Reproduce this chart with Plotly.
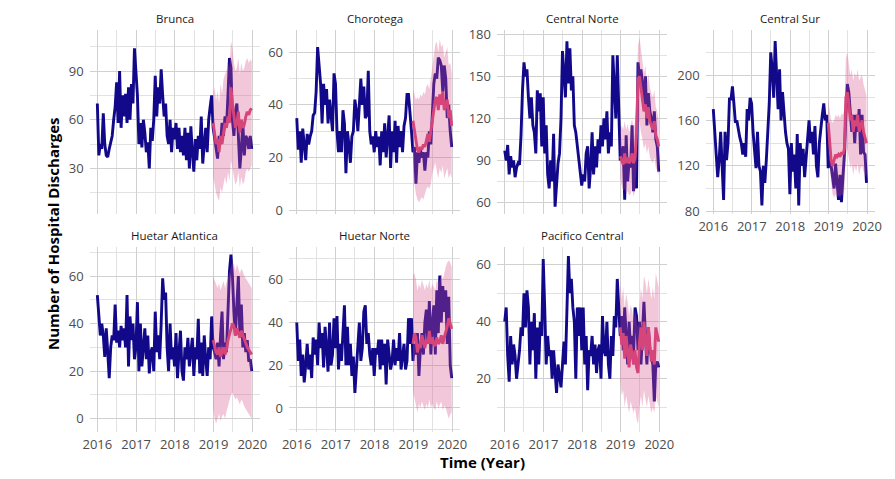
import pandas as pd
import plotly.graph_objects as go

W, H = 895, 479

# fortnightly dates 2016-2019, forecast window is the last 27 of them (2019)
weeks = pd.date_range("2016-01-01", periods=105, freq="14D")
fc_weeks = weeks[78:]

brunca_obs = [70, 38, 45, 42, 64, 45, 38, 37, 42, 46, 50, 60, 68,
              83, 58, 90, 55, 75, 62, 76, 58, 80, 60, 82, 70, 104,
              90, 75, 45, 58, 43, 60, 52, 40, 46, 30, 55, 47, 60,
              87, 62, 80, 70, 91, 75, 62, 70, 50, 45, 60, 40, 55,
              48, 58, 42, 55, 40, 50, 38, 55, 35, 52, 30, 56, 40,
              28, 48, 35, 50, 42, 62, 33, 45, 55, 40, 60, 68, 75,
              55, 48, 40, 36, 50, 45, 58, 50, 62, 55, 75, 98, 92,
              60, 50, 65, 70, 45, 30, 42, 58, 38, 50, 48, 42, 50, 42]
brunca_fc = [58, 52, 45, 48, 40, 50, 45, 52, 58, 55, 62, 58, 80, 70,
             60, 55, 58, 65, 52, 60, 55, 57, 62, 65, 63, 66, 67]
brunca_lo = [25, 20, 15, 12, 10, 18, 15, 20, 25, 20, 28, 22, 35, 30,
             25, 20, 22, 28, 18, 25, 20, 22, 28, 30, 28, 30, 32]
brunca_hi = [75, 80, 72, 78, 70, 82, 76, 85, 88, 90, 95, 92, 108, 105,
             95, 90, 92, 98, 88, 95, 90, 92, 96, 98, 95, 97, 96]

chorotega_obs = [35, 23, 30, 18, 31, 25, 19, 29, 25, 28, 30, 36, 37,
                 45, 62, 55, 48, 33, 48, 40, 46, 33, 42, 36, 30, 52,
                 48, 30, 22, 30, 22, 38, 33, 14, 30, 25, 18, 28, 30,
                 42, 38, 30, 42, 50, 40, 47, 35, 36, 53, 30, 25, 28,
                 22, 30, 24, 28, 17, 30, 22, 33, 20, 28, 36, 16, 30,
                 22, 34, 18, 32, 24, 30, 22, 32, 35, 44, 44, 38, 30,
                 22, 24, 10, 22, 18, 23, 20, 22, 15, 22, 20, 30, 25,
                 40, 48, 52, 50, 58, 57, 55, 45, 55, 50, 35, 40, 30, 24]
chorotega_fc = [34, 30, 26, 23, 22, 24, 23, 25, 24, 27, 29, 26, 30, 35,
                38, 42, 43, 38, 44, 40, 45, 38, 40, 42, 35, 38, 32]
chorotega_lo = [15, 10, 6, 4, 3, 4, 5, 4, 6, 8, 9, 8, 10, 14,
                16, 18, 15, 12, 16, 14, 17, 12, 14, 16, 12, 14, 12]
chorotega_hi = [46, 44, 42, 43, 42, 44, 43, 45, 44, 47, 48, 46, 50, 55,
                60, 63, 64, 60, 65, 62, 63, 58, 60, 62, 55, 56, 52]

cnorte_obs = [97, 90, 101, 80, 93, 85, 90, 78, 85, 88, 87, 108, 140,
              160, 150, 155, 135, 120, 135, 115, 110, 95, 140, 125, 138, 100,
              135, 95, 115, 80, 70, 90, 75, 109, 57, 75, 88, 95, 120,
              168, 150, 135, 175, 145, 170, 140, 150, 115, 110, 100, 90, 80,
              72, 80, 75, 95, 100, 70, 85, 110, 80, 100, 85, 105, 95,
              115, 100, 120, 105, 125, 95, 110, 100, 165, 140, 120, 165, 130,
              90, 95, 100, 62, 108, 75, 90, 85, 115, 68, 90, 70, 160,
              150, 155, 145, 130, 150, 115, 138, 125, 120, 110, 125, 105, 100, 82]
cnorte_fc = [93, 90, 87, 95, 88, 92, 88, 90, 95, 88, 92, 110, 148, 150,
             140, 135, 125, 130, 120, 128, 118, 115, 112, 118, 108, 105, 100]
cnorte_lo = [78, 72, 68, 70, 66, 68, 65, 66, 70, 64, 68, 85, 115, 118,
             110, 105, 98, 102, 95, 100, 92, 90, 88, 92, 85, 82, 80]
cnorte_hi = [110, 115, 112, 118, 112, 116, 110, 114, 120, 112, 118, 140, 172, 178,
             168, 162, 152, 158, 145, 152, 142, 138, 135, 140, 128, 125, 118]

csur_obs = [170, 150, 130, 110, 125, 150, 120, 90, 150, 125, 140, 180, 178,
            190, 175, 158, 160, 150, 145, 140, 130, 140, 128, 170, 160, 180,
            175, 150, 135, 118, 150, 120, 115, 85, 120, 105, 125, 150, 175,
            220, 205, 180, 230, 200, 170, 205, 160, 185, 165, 150, 140, 135,
            95, 140, 115, 130, 100, 148, 85, 140, 120, 135, 110, 125, 145,
            160, 140, 150, 130, 155, 120, 110, 140, 155, 165, 175, 160, 165,
            118, 130, 120, 108, 100, 122, 105, 90, 112, 88, 110, 130, 165,
            192, 185, 165, 150, 165, 140, 165, 150, 170, 130, 165, 132, 130, 105]
csur_fc = [158, 140, 125, 120, 125, 130, 128, 130, 128, 132, 130, 135, 180, 185,
           175, 160, 165, 150, 160, 155, 165, 150, 155, 160, 150, 145, 140]
csur_lo = [138, 120, 105, 95, 92, 95, 92, 94, 92, 95, 94, 98, 130, 135,
           128, 118, 122, 112, 120, 115, 122, 112, 118, 120, 115, 112, 110]
csur_hi = [178, 168, 160, 158, 160, 165, 163, 165, 162, 166, 165, 170, 215, 220,
           210, 200, 205, 195, 202, 198, 205, 195, 198, 200, 192, 188, 182]

hatl_obs = [52, 45, 35, 40, 35, 26, 38, 28, 17, 30, 35, 33, 48,
            32, 37, 30, 39, 33, 38, 30, 52, 22, 43, 33, 40, 25,
            30, 49, 20, 40, 22, 30, 38, 25, 35, 19, 28, 30, 20,
            45, 28, 35, 25, 40, 59, 50, 53, 30, 20, 40, 25, 30,
            22, 36, 17, 28, 37, 20, 16, 30, 25, 34, 22, 28, 34,
            18, 30, 25, 42, 19, 32, 18, 35, 25, 18, 30, 25, 43,
            30, 28, 25, 32, 22, 35, 45, 25, 32, 28, 45, 62, 69,
            60, 45, 35, 48, 60, 35, 48, 30, 36, 28, 33, 24, 25, 20]
hatl_fc = [33, 30, 28, 27, 30, 26, 28, 30, 27, 29, 33, 35, 38, 40,
           39, 35, 38, 36, 34, 37, 35, 33, 31, 30, 29, 28, 27]
hatl_lo = [5, 0, -2, 0, 2, -1, 1, 2, 0, 3, 6, 8, 10, 11,
           10, 8, 9, 8, 6, 8, 7, 5, 4, 3, 2, 1, 0]
hatl_hi = [60, 58, 56, 55, 57, 54, 56, 58, 55, 57, 60, 62, 64, 66,
           65, 62, 65, 63, 61, 63, 62, 60, 59, 58, 57, 56, 55]

hnorte_obs = [40, 22, 32, 15, 25, 12, 20, 30, 18, 25, 14, 33, 25,
              32, 20, 40, 28, 35, 19, 38, 28, 17, 40, 20, 25, 42,
              28, 43, 18, 30, 22, 35, 48, 20, 38, 20, 30, 15, 24,
              7, 20, 30, 40, 22, 28, 45, 48, 30, 35, 25, 20, 28,
              15, 28, 25, 32, 18, 32, 20, 30, 11, 32, 25, 18, 22,
              32, 20, 28, 22, 35, 18, 25, 30, 18, 22, 42, 30, 42,
              22, 30, 25, 35, 15, 28, 35, 25, 40, 46, 30, 50, 25,
              40, 48, 25, 55, 35, 62, 40, 57, 45, 55, 30, 52, 20, 14]
hnorte_fc = [30, 35, 33, 26, 30, 28, 34, 30, 28, 32, 30, 36, 30, 33,
             30, 29, 33, 30, 31, 34, 30, 33, 35, 38, 42, 40, 37]
hnorte_lo = [8, 5, 2, -2, 2, 0, 3, 1, -1, 2, 0, 4, 0, 2,
             0, -1, 3, 0, 1, 3, -1, 1, 0, -2, -5, -3, -2]
hnorte_hi = [62, 63, 60, 55, 58, 56, 60, 57, 55, 58, 56, 60, 55, 58,
             56, 55, 60, 58, 60, 63, 60, 64, 66, 68, 69, 68, 66]

pcen_obs = [40, 45, 28, 19, 35, 25, 32, 28, 20, 25, 30, 38, 35,
            50, 38, 51, 45, 25, 40, 30, 43, 20, 38, 25, 40, 35,
            62, 45, 25, 35, 28, 30, 20, 30, 22, 15, 25, 20, 17,
            25, 33, 25, 45, 63, 50, 55, 45, 40, 20, 45, 35, 45,
            30, 45, 25, 35, 16, 30, 28, 35, 25, 32, 22, 30, 32,
            20, 42, 30, 28, 40, 25, 20, 35, 28, 42, 38, 55, 45,
            35, 42, 30, 45, 35, 25, 40, 30, 35, 28, 45, 42, 30,
            40, 25, 35, 47, 35, 25, 38, 30, 28, 25, 12, 25, 26, 24]
pcen_fc = [38, 32, 36, 27, 35, 30, 24, 32, 28, 25, 30, 24, 22, 33,
           38, 30, 40, 35, 28, 38, 32, 26, 30, 25, 38, 35, 33]
pcen_lo = [20, 14, 16, 10, 14, 12, 8, 12, 10, 8, 10, 6, 4, 10,
           14, 10, 16, 13, 10, 14, 11, 8, 10, 8, 14, 12, 10]
pcen_hi = [55, 48, 52, 45, 50, 47, 42, 46, 44, 40, 44, 40, 38, 46,
           52, 48, 56, 54, 50, 55, 52, 48, 52, 48, 57, 55, 52]

regions = ["Brunca", "Chorotega", "Central Norte", "Central Sur",
           "Huetar Atlantica", "Huetar Norte", "Pacifico Central"]
series = [
    (brunca_obs, brunca_fc, brunca_lo, brunca_hi),
    (chorotega_obs, chorotega_fc, chorotega_lo, chorotega_hi),
    (cnorte_obs, cnorte_fc, cnorte_lo, cnorte_hi),
    (csur_obs, csur_fc, csur_lo, csur_hi),
    (hatl_obs, hatl_fc, hatl_lo, hatl_hi),
    (hnorte_obs, hnorte_fc, hnorte_lo, hnorte_hi),
    (pcen_obs, pcen_fc, pcen_lo, pcen_hi),
]
y_ranges = [[2.2, 115.3], [-1.3, 68.5], [52.1, 183.1], [78, 239.7],
            [-5.4, 72.2], [-11, 75.3], [1.5, 66.2]]
y_dticks = [30, 20, 30, 40, 20, 20, 20]

NAVY = "#12098a"
PINK = "#d6457a"
RIBBON = "rgba(214,80,140,0.32)"
GRID = "#d0d0d0"
MINOR = "#e2e2e2"
FONT = "Open Sans"

# panel boxes in pixels
cols_px = [(89.6, 260.0), (289.0, 460.0), (497.0, 667.0), (705.6, 874.7)]
rows_px = [(30.0, 213.5), (247.0, 431.5)]


def px_x(v):
    return v / W


def px_y(v):
    return 1 - v / H


fig = go.Figure()
layout = {}
annotations = []

for k, (name, (obs, fc, lo, hi)) in enumerate(zip(regions, series)):
    n = k + 1
    row, col = divmod(k, 4)
    xs = "x" if n == 1 else f"x{n}"
    ys = "y" if n == 1 else f"y{n}"

    fig.add_trace(go.Scatter(x=weeks, y=obs, mode="lines", xaxis=xs, yaxis=ys,
                             line=dict(color=NAVY, width=2.9), hoverinfo="skip"))
    fig.add_trace(go.Scatter(x=list(fc_weeks) + list(fc_weeks[::-1]),
                             y=hi + lo[::-1], mode="lines", fill="toself",
                             fillcolor=RIBBON, line=dict(width=0),
                             xaxis=xs, yaxis=ys, hoverinfo="skip"))
    fig.add_trace(go.Scatter(x=fc_weeks, y=fc, mode="lines", xaxis=xs, yaxis=ys,
                             line=dict(color=PINK, width=2.9), hoverinfo="skip"))

    x0, x1 = cols_px[col]
    y0, y1 = rows_px[row]
    show_x = row == 1 or col == 3
    layout["xaxis" if n == 1 else f"xaxis{n}"] = dict(
        domain=[px_x(x0), px_x(x1)], anchor=ys, automargin=False,
        type="date", range=["2015-10-20", "2020-03-14"],
        tick0="2016-01-01", dtick="M12", tickformat="%Y",
        showticklabels=show_x, ticks="", ticklabelstandoff=3,
        showgrid=True, gridcolor=GRID, gridwidth=1.4,
        minor=dict(dtick="M6", tick0="2016-01-01", showgrid=True,
                   gridcolor=MINOR, gridwidth=0.8),
        zeroline=False, showline=False,
        tickfont=dict(family=FONT, size=13, color="#4d4d4d"))
    dt = y_dticks[k]
    layout["yaxis" if n == 1 else f"yaxis{n}"] = dict(
        domain=[px_y(y1), px_y(y0)], anchor=xs, automargin=False,
        range=y_ranges[k], tick0=0, dtick=dt,
        ticks="", ticklabelstandoff=5,
        showgrid=True, gridcolor=GRID, gridwidth=1.4,
        minor=dict(dtick=dt / 2, tick0=0, showgrid=True,
                   gridcolor=MINOR, gridwidth=0.8),
        zeroline=False, showline=False,
        tickfont=dict(family=FONT, size=13, color="#4d4d4d"))

    annotations.append(dict(text=name, xref="paper", yref="paper",
                            x=px_x((x0 + x1) / 2), y=px_y(y0 - 12),
                            showarrow=False, xanchor="center", yanchor="middle",
                            font=dict(family=FONT, size=11.5, color="#1a1a1a")))

annotations.append(dict(text="<b>Number of Hospital Discharges</b>", xref="paper",
                        yref="paper", x=px_x(53), y=px_y(234), textangle=-90,
                        showarrow=False, xanchor="center", yanchor="middle",
                        font=dict(family=FONT, size=15, color="black")))
annotations.append(dict(text="<b>Time (Year)</b>", xref="paper", yref="paper",
                        x=px_x(482), y=px_y(462), showarrow=False,
                        xanchor="center", yanchor="middle",
                        font=dict(family=FONT, size=15, color="black")))

fig.update_layout(
    width=W, height=H,
    margin=dict(l=0, r=0, t=0, b=0),
    paper_bgcolor="white", plot_bgcolor="white",
    showlegend=False,
    annotations=annotations,
    **layout,
)

# drop the page's default 8px body margin so the figure sits at the corner
fig.write_html("out.html", config={"displayModeBar": False},
               post_script="document.body.style.margin='0';")
